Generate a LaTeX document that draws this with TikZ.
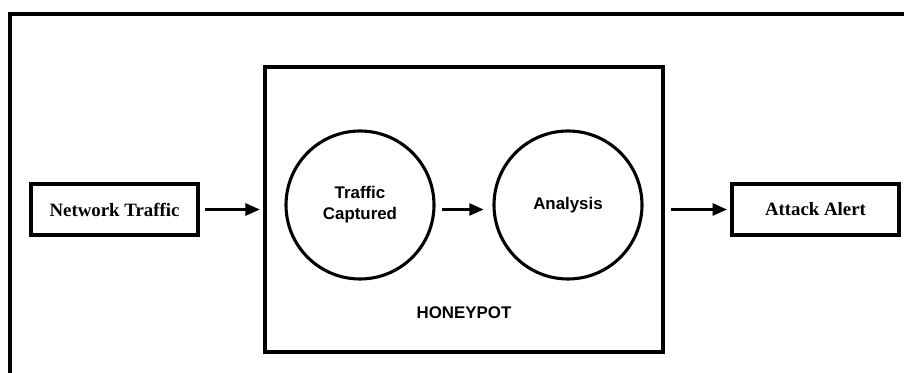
\documentclass[tikz,border=0pt]{standalone}
\usepackage{fontspec}
\setmainfont{Liberation Serif}
\setsansfont{Liberation Sans}
\usepackage{tikz}
\usetikzlibrary{shapes.geometric, arrows.meta}

\begin{document}
\begin{tikzpicture}
        % Define the styles for boxes, circles and arrows
        \tikzstyle{boxnode}=[rectangle, draw, line width=2.8pt, minimum width=4.175cm, minimum height=1.275cm, inner sep=0pt, font=\bfseries\fontsize{13.4}{16}\selectfont]
        \tikzstyle{procnode}=[circle, draw, line width=2.2pt, minimum size=3.7cm, inner sep=0pt, align=center, font=\sffamily\bfseries\fontsize{12}{15}\selectfont]
        \tikzstyle{arr}=[-{Triangle[length=0.36cm,width=0.3cm]}, line width=1.8pt]

        \useasboundingbox (0,0) rectangle (22.6,9.325);

        % Define the frame
        \draw[line width=2.2pt] (0.25,0) -- (0.25,8.975) -- (22.6,8.975);

        % Define the nodes
        \node[rectangle, draw, line width=3pt, minimum width=9.95cm, minimum height=7.125cm] (hp) at (11.6,4.0875) {};
        \node[font=\sffamily\bfseries\fontsize{12}{15}\selectfont] (hplabel) at (11.6,1.5) {HONEYPOT};
        \node[boxnode] (nt) at (2.8625,4.0875) {Network Traffic};
        \node[procnode] (tc) at (9.0,4.2) {Traffic\\Captured};
        \node[procnode] (an) at (14.2,4.2) {Analysis};
        \node[boxnode] (aa) at (20.3875,4.0875) {Attack Alert};

        % Define the arrows
        \draw[arr, shorten <=0.125cm, shorten >=0.075cm] (nt) -- (hp);
        \draw[arr, shorten <=0.17cm, shorten >=0.22cm] (tc.east |- hp.center) -- (an.west |- hp.center);
        \draw[arr, shorten <=0.15cm, shorten >=0.075cm] (hp) -- (aa);
    \end{tikzpicture}
\end{document}
